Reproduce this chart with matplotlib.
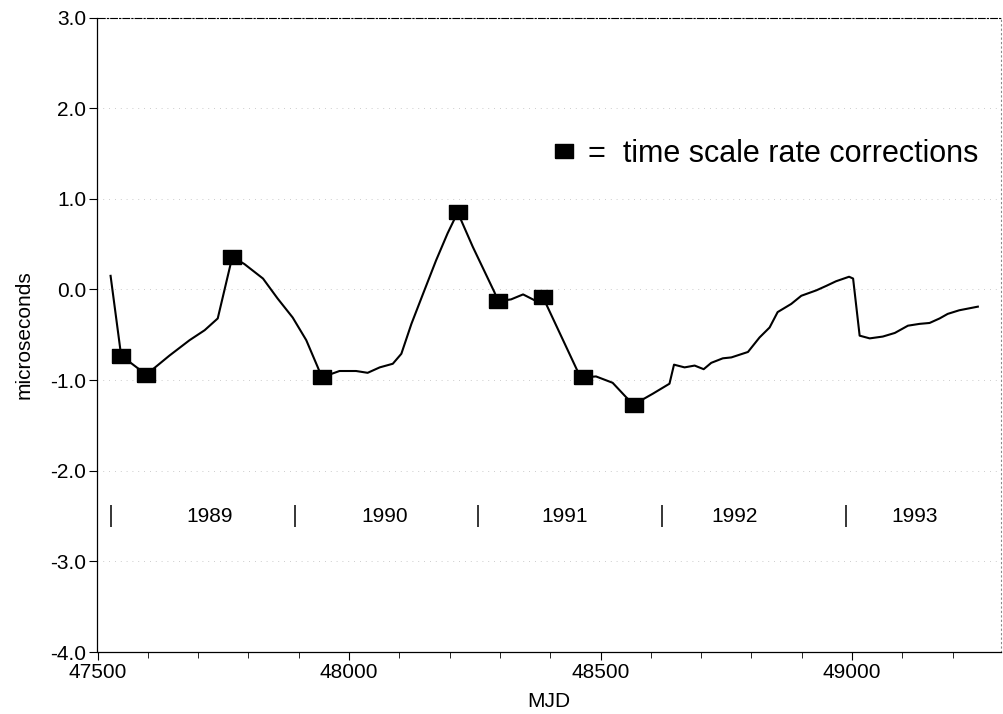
"""Time scale offset vs MJD with rate-correction markers."""
import matplotlib
matplotlib.use("Agg")
import matplotlib.pyplot as plt
from matplotlib.lines import Line2D

plt.rcParams["font.family"] = ["Liberation Sans", "DejaVu Sans"]
plt.rcParams["axes.unicode_minus"] = False

# offset curve (MJD, microseconds)
mjd = [47526, 47547, 47597, 47643, 47683, 47713, 47739, 47768, 47792, 47829,
       47858, 47888, 47915, 47938, 47946, 47981, 48014, 48037, 48061, 48087,
       48104, 48124, 48147, 48173, 48196, 48216, 48246, 48289, 48296, 48322,
       48346, 48369, 48385, 48455, 48466, 48491, 48524, 48551, 48566, 48604,
       48637, 48646, 48667, 48687, 48705, 48720, 48743, 48760, 48793, 48816,
       48836, 48852, 48879, 48899, 48929, 48949, 48968, 48994, 49002, 49015,
       49035, 49061, 49085, 49111, 49134, 49154, 49174, 49190, 49213, 49250]
offset = [0.15, -0.73, -0.94, -0.73, -0.56, -0.45, -0.32, 0.36, 0.28, 0.12,
          -0.10, -0.31, -0.56, -0.86, -0.97, -0.90, -0.90, -0.92, -0.86, -0.82,
          -0.71, -0.38, -0.05, 0.32, 0.62, 0.85, 0.47, -0.03, -0.13, -0.11,
          -0.055, -0.12, -0.08, -0.91, -0.97, -0.96, -1.03, -1.19, -1.27, -1.15,
          -1.04, -0.83, -0.86, -0.84, -0.88, -0.81, -0.76, -0.75, -0.69, -0.53,
          -0.42, -0.25, -0.16, -0.07, -0.01, 0.04, 0.09, 0.14, 0.12, -0.51,
          -0.54, -0.52, -0.48, -0.40, -0.38, -0.37, -0.32, -0.27, -0.23, -0.19]

# time scale rate corrections
corr_mjd = [47547, 47597, 47768, 47946, 48216, 48296, 48385, 48466, 48566]
corr_us = [-0.73, -0.94, 0.36, -0.97, 0.85, -0.13, -0.08, -0.97, -1.27]

# calendar year boundaries and labels
year_start = [47527, 47892, 48257, 48622, 48988]
year_label_mjd = [47723, 48071, 48428, 48766, 49124]
year_label = ["1989", "1990", "1991", "1992", "1993"]

RECT = [(-1, -0.76), (1, -0.76), (1, 0.76), (-1, 0.76), (-1, -0.76)]

fig = plt.figure(figsize=(10.04, 7.14), dpi=100)
ax = fig.add_axes([97.5 / 1004, 62 / 714, 903.5 / 1004, 634.5 / 714])

ax.plot(mjd, offset, color="black", linewidth=1.5, zorder=3)
ax.plot(corr_mjd, corr_us, linestyle="none", marker=RECT, markersize=13,
        color="black", zorder=4)

# year strip
ax.vlines(year_start, -2.38, -2.62, color="black", linewidth=1.1)
for xm, lab in zip(year_label_mjd, year_label):
    ax.text(xm, -2.5, lab, ha="center", va="center", fontsize=15)

ax.set_xlim(47500, 49296)
ax.set_ylim(-4.0, 3.0)
ax.set_xticks([47500, 48000, 48500, 49000])
ax.set_xticks(range(47500, 49300, 100), minor=True)
ax.set_yticks([3.0, 2.0, 1.0, 0.0, -1.0, -2.0, -3.0, -4.0])
ax.set_yticklabels([f"{v:.1f}" for v in [3.0, 2.0, 1.0, 0.0, -1.0, -2.0, -3.0, -4.0]])
ax.tick_params(axis="both", which="major", labelsize=15, length=6, width=0.8,
               direction="out", pad=2)
ax.tick_params(axis="x", which="minor", length=4, width=0.6, direction="out")
ax.tick_params(axis="y", which="minor", left=False)

ax.grid(axis="y", which="major", color="#bbbbbb", linestyle=(0, (1, 6)),
        linewidth=0.6)

for side in ("left", "bottom"):
    ax.spines[side].set_linewidth(0.9)
ax.spines["top"].set_linestyle((0, (6, 2, 1, 2)))
ax.spines["top"].set_linewidth(0.8)
ax.spines["right"].set_linestyle((0, (1, 3)))
ax.spines["right"].set_color("#888888")
ax.spines["right"].set_linewidth(0.8)

ax.set_xlabel("MJD", fontsize=15, labelpad=7)
ax.set_ylabel("microseconds", fontsize=15, labelpad=12)

handle = Line2D([], [], linestyle="none", marker=RECT, markersize=13, color="black")
ax.legend([handle], ["=  time scale rate corrections"], loc="center left",
          bbox_to_anchor=(0.506, 0.785), frameon=False, fontsize=22,
          handlelength=0.6, handletextpad=0.5, borderpad=0, borderaxespad=0)

fig.savefig("out.png", dpi=100)
